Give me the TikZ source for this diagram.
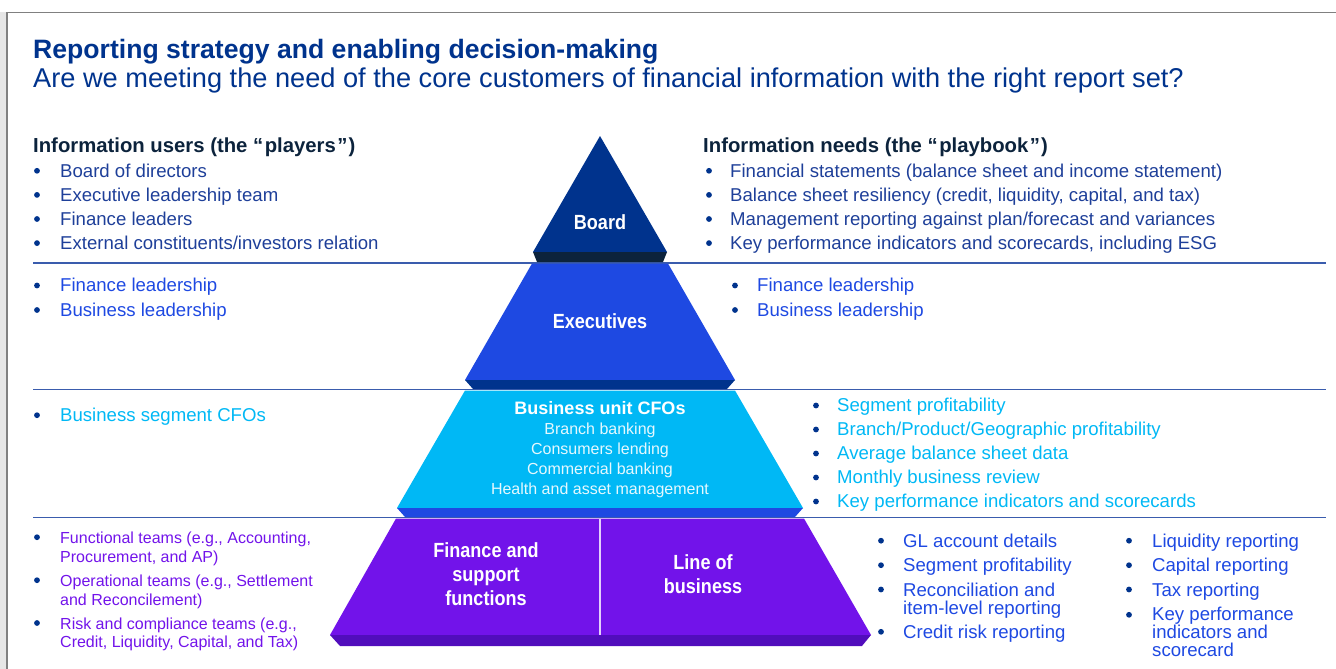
\documentclass[tikz,border=0pt]{standalone}
\usepackage{fontspec}
\setmainfont{Liberation Sans}
\newfontfamily\tierfont{Liberation Sans}[FakeStretch=0.88]
\usepackage{tikz}
\usetikzlibrary{positioning}

\definecolor{kblue}{HTML}{00338D}
\definecolor{kdark}{HTML}{0C233C}
\definecolor{ktext}{HTML}{1E3F99}
\definecolor{kcobalt}{HTML}{1E49E2}
\definecolor{klight}{HTML}{00B8F5}
\definecolor{kpurple}{HTML}{7213EA}
\definecolor{kpurpledk}{HTML}{510DBC}
\definecolor{krule}{HTML}{3A5CAD}
\definecolor{kgrey}{HTML}{E6E6E6}

\tikzset{
  body/.style={anchor=base west, inner sep=0pt, font=\fontsize{18.6}{22}\selectfont},
  small/.style={anchor=base west, inner sep=0pt, text=kpurple, font=\fontsize{16}{19}\selectfont},
  head/.style={anchor=base west, inner sep=0pt, text=kdark, font=\fontsize{20.3}{24}\selectfont\bfseries},
  tier/.style={anchor=base, inner sep=0pt, text=white, font=\tierfont\fontsize{20.5}{24}\selectfont\bfseries},
  tiersub/.style={anchor=base, inner sep=0pt, text=white!90!klight, font=\fontsize{16}{19}\selectfont},
  sep/.style={krule, line width=1.5pt},
}
\newcommand{\dotat}[1]{\fill[kblue] #1 circle (2.9pt);}

\begin{document}
\begin{tikzpicture}[x=1pt, y=-1pt]
\useasboundingbox (0,0) rectangle (1336,669);

% page frame
\fill[kgrey] (0,12) rectangle (6,669);
\draw[gray, line width=1.5pt] (6.75,669) -- (6.75,12.75) -- (1336,12.75);

% titles
\draw (33,58.5) node[anchor=base west, inner sep=0pt, text=kblue, font=\fontsize{26.6}{30}\selectfont\bfseries] (title) {Reporting strategy and enabling decision-making};
\draw (33,87.5) node[anchor=base west, inner sep=0pt, text=kblue, font=\fontsize{27.2}{30}\selectfont] (subtitle) {Are we meeting the need of the core customers of financial information with the right report set?};

\draw (33,152) node[head] (users) {Information users (the “\kern1.5pt players\kern1.5pt”\kern1pt)};
\draw (703,152) node[head] (needs) {Information needs (the “\kern1.5pt playbook\kern1.5pt”\kern1pt)};

% row rules
\draw[sep] (33,263) -- (1326,263);
\draw[sep] (33,389.5) -- (1326,389.5);
\draw[sep] (33,517.5) -- (1326,517.5);

% pyramid
\fill[kblue] (600,136) -- (667,252) -- (533,252) -- cycle;
\fill[kdark] (533,252) -- (667,252) -- (663,262) -- (537,262) -- cycle;
\fill[kcobalt] (532,263.5) -- (668,263.5) -- (735,380) -- (465,380) -- cycle;
\fill[kblue] (465,380) -- (735,380) -- (727,389) -- (473,389) -- cycle;
\fill[klight] (465,390.5) -- (735,390.5) -- (803,508) -- (397,508) -- cycle;
\fill[kcobalt] (397,508) -- (803,508) -- (795,517) -- (405,517) -- cycle;
\fill[kpurple] (396,518.5) -- (804,518.5) -- (871,635) -- (330,635) -- cycle;
\fill[kpurpledk] (330,635) -- (871,635) -- (862,646) -- (340,646) -- cycle;
\draw[white!80!kpurple, line width=1.3pt] (600,518.5) -- (600,635);

\draw (600,229.5) node[tier] (board) {Board};
\draw (600,328.5) node[tier] (execs) {Executives};
\draw (600,414.5) node[tier, font=\fontsize{18}{22}\selectfont\bfseries] (cfos) {Business unit CFOs};
\foreach \txt [count=\i] in {Branch banking, Consumers lending, Commercial banking, Health and asset management}
  \draw (600,{434.5+19.9*(\i-1)}) node[tiersub] (unit\i) {\txt};
\draw (486,557.5) node[tier] (fin1) {Finance and};
\draw (486,581.5) node[tier] (fin2) {support};
\draw (486,605.5) node[tier] (fin3) {functions};
\draw (703,569.5) node[tier] (lob1) {Line of};
\draw (703,593.5) node[tier] (lob2) {business};

% board row
\foreach \txt [count=\i] in {Board of directors, Executive leadership team, Finance leaders, External constituents/investors relation}
  {\dotat{(37,{170.8+24.1*(\i-1)})}
   \draw (60,{177.3+24.1*(\i-1)}) node[body, text=ktext] (user\i) {\txt};}
\foreach \txt [count=\i] in {Financial statements (balance sheet and income statement), {Balance sheet resiliency (credit, liquidity, capital, and tax)}, Management reporting against plan/forecast and variances, {Key performance indicators and scorecards, including ESG}}
  {\dotat{(709,{170.8+24.1*(\i-1)})}
   \draw (730,{177.3+24.1*(\i-1)}) node[body, text=ktext] (need\i) {\txt};}

% executives row
\foreach \txt [count=\i] in {Finance leadership, Business leadership}
  {\dotat{(37,{285.5+24.5*(\i-1)})}
   \draw (60,{291.8+24.5*(\i-1)}) node[body, text=kcobalt] (execuser\i) {\txt};
   \dotat{(735,{285.5+24.5*(\i-1)})}
   \draw (757,{291.8+24.5*(\i-1)}) node[body, text=kcobalt] (execneed\i) {\txt};}

% business unit row
\dotat{(37,415.2)}
\draw (60,421.5) node[body, text=klight] (cfouser) {Business segment CFOs};
\foreach \txt [count=\i] in {Segment profitability, Branch/Product/Geographic profitability, Average balance sheet data, Monthly business review, Key performance indicators and scorecards}
  {\dotat{(816,{405.5+24*(\i-1)})}
   \draw (837,{411.8+24*(\i-1)}) node[body, text=klight] (cfoneed\i) {\txt};}

% functions row
\dotat{(37,537.2)}
\draw (60,543.5) node[small] (team1a) {Functional teams (e.g., Accounting,};
\draw (60,562) node[small] (team1b) {Procurement, and AP)};
\dotat{(37,580.2)}
\draw (60,586.5) node[small] (team2a) {Operational teams (e.g., Settlement};
\draw (60,605) node[small] (team2b) {and Reconcilement)};
\dotat{(37,623)}
\draw (60,629) node[small] (team3a) {Risk and compliance teams (e.g.,};
\draw (60,647.5) node[small] (team3b) {Credit, Liquidity, Capital, and Tax)};

\dotat{(881,540.7)}
\draw (903,547) node[body, text=kcobalt] (gl) {GL account details};
\dotat{(881,565.2)}
\draw (903,571.5) node[body, text=kcobalt] (seg) {Segment profitability};
\dotat{(881,589.5)}
\draw (903,596) node[body, text=kcobalt] (rec1) {Reconciliation and};
\draw (903,614.5) node[body, text=kcobalt] (rec2) {item-level reporting};
\dotat{(881,631.8)}
\draw (903,638.2) node[body, text=kcobalt] (credit) {Credit risk reporting};

\dotat{(1129,540.7)}
\draw (1152,547) node[body, text=kcobalt] (liq) {Liquidity reporting};
\dotat{(1129,565.2)}
\draw (1152,571.5) node[body, text=kcobalt] (cap) {Capital reporting};
\dotat{(1129,589.5)}
\draw (1152,596) node[body, text=kcobalt] (tax) {Tax reporting};
\dotat{(1129,614.8)}
\draw (1152,620.5) node[body, text=kcobalt] (kpi1) {Key performance};
\draw (1152,638.5) node[body, text=kcobalt] (kpi2) {indicators and};
\draw (1152,656.7) node[body, text=kcobalt] (kpi3) {scorecard};
\end{tikzpicture}
\end{document}
